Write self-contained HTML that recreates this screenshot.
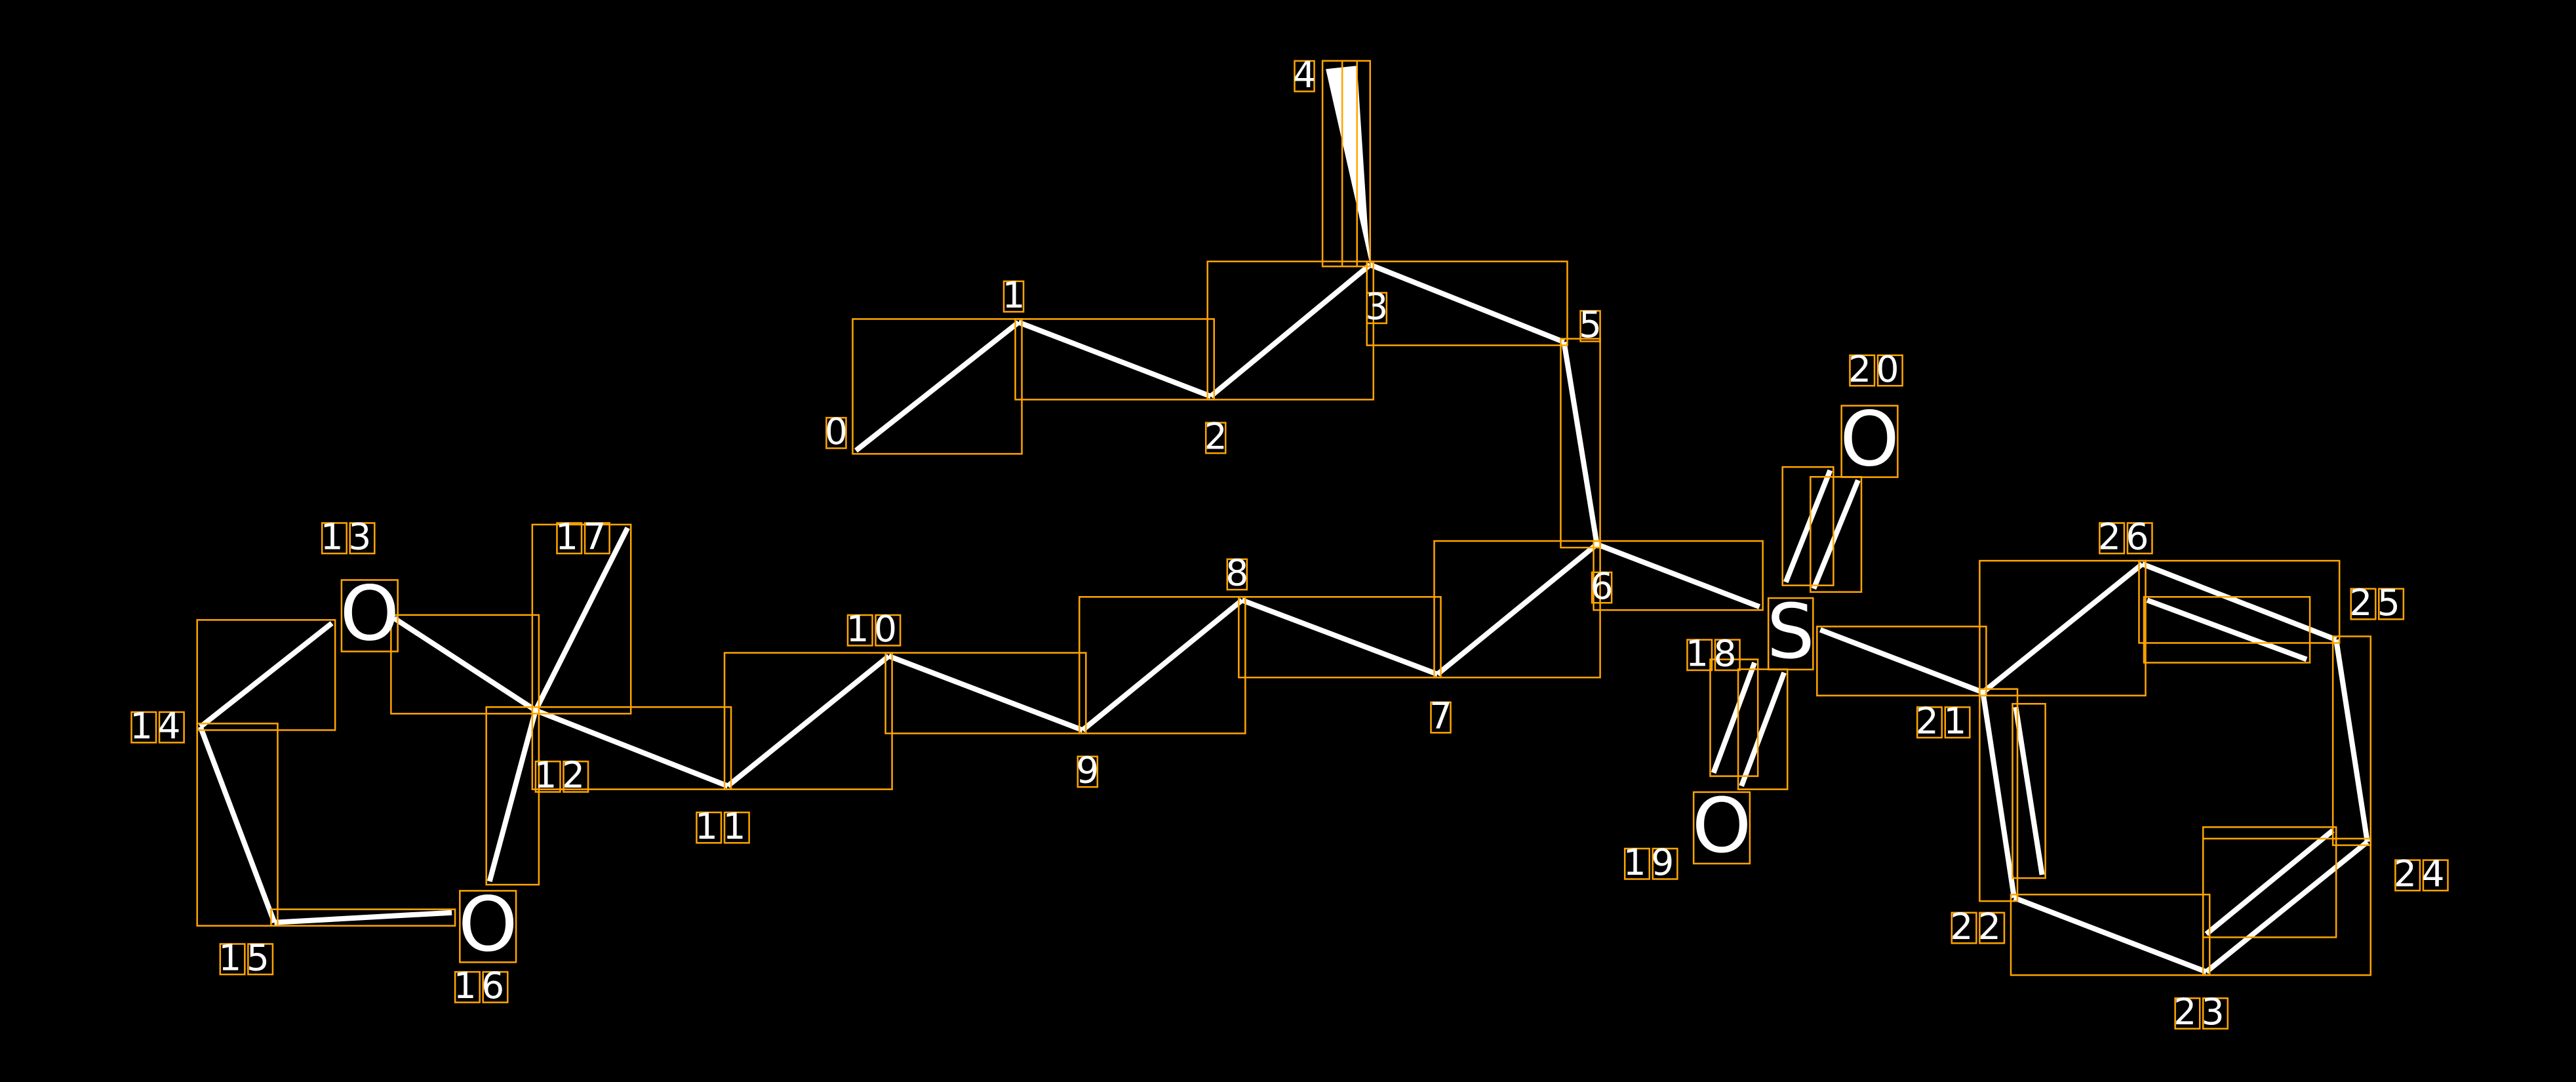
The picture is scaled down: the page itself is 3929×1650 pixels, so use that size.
<!DOCTYPE html>
<html><head><meta charset="utf-8"><style>
html,body{margin:0;padding:0;background:#000;}
svg{display:block;}
text{font-family:"DejaVu Sans","Liberation Sans",sans-serif;fill:#fff;}
</style></head><body>
<svg id="s" width="3929" height="1650" viewBox="0 0 1568 658" preserveAspectRatio="none" xmlns="http://www.w3.org/2000/svg">
<rect x="0" y="0" width="1568" height="658" fill="#000"/>
<g id="bonds" stroke="#fff" stroke-width="3.2" stroke-linecap="butt" fill="none">
<line x1="521" y1="274" x2="620" y2="196"/>
<line x1="620" y1="196" x2="737" y2="241"/>
<line x1="737" y1="241" x2="834" y2="161"/>
<line x1="834" y1="161" x2="952" y2="208"/>
<line x1="952" y1="208" x2="972" y2="331"/>
<line x1="972" y1="331" x2="875" y2="410"/>
<line x1="875" y1="410" x2="756" y2="365"/>
<line x1="756" y1="365" x2="659" y2="444"/>
<line x1="659" y1="444" x2="541" y2="399"/>
<line x1="541" y1="399" x2="443" y2="478"/>
<line x1="443" y1="478" x2="326" y2="432"/>
<line x1="326" y1="432" x2="240" y2="376"/>
<line x1="202" y1="379" x2="122" y2="442"/>
<line x1="122" y1="442" x2="167" y2="561"/>
<line x1="167" y1="561" x2="275" y2="555"/>
<line x1="326" y1="432" x2="298" y2="536"/>
<line x1="326" y1="432" x2="382" y2="321"/>
<line x1="972" y1="331" x2="1071" y2="369"/>
<line x1="1087" y1="354" x2="1114" y2="286"/>
<line x1="1104" y1="358" x2="1131" y2="292"/>
<line x1="1068" y1="403" x2="1043" y2="470"/>
<line x1="1086" y1="409" x2="1060" y2="478"/>
<line x1="1108" y1="383" x2="1207" y2="421"/>
<line x1="1207" y1="421" x2="1226" y2="546"/>
<line x1="1226" y1="546" x2="1343" y2="591"/>
<line x1="1343" y1="591" x2="1441" y2="512"/>
<line x1="1441" y1="512" x2="1422" y2="389"/>
<line x1="1422" y1="389" x2="1304" y2="343"/>
<line x1="1304" y1="343" x2="1207" y2="421"/>
<line x1="1227" y1="430" x2="1243" y2="532"/>
<line x1="1307" y1="365" x2="1404" y2="401"/>
<line x1="1343" y1="568" x2="1420" y2="505"/>
</g>
<polygon points="807,42 826,40 834,161" fill="#fff"/>
<g id="boxes" stroke="#ffa500" stroke-width="1" fill="none">
<rect x="805" y="37" width="21" height="125"/>
<rect x="817" y="37" width="17" height="125"/>
</g>
<g id="labels" font-size="22">
<text x="509" y="270" text-anchor="middle">0</text>
<text x="617" y="187" text-anchor="middle">1</text>
<text x="740" y="273" text-anchor="middle">2</text>
<text x="838" y="194" text-anchor="middle">3</text>
<text x="794" y="53" text-anchor="middle">4</text>
<text x="968" y="205" text-anchor="middle">5</text>
<text x="975" y="364" text-anchor="middle">6</text>
<text x="877" y="443" text-anchor="middle">7</text>
<text x="753" y="356" text-anchor="middle">8</text>
<text x="662" y="476" text-anchor="middle">9</text>
<text x="532" y="390" text-anchor="middle" letter-spacing="3">10</text>
<text x="440" y="510" text-anchor="middle" letter-spacing="3">11</text>
<text x="342" y="479" text-anchor="middle" letter-spacing="3">12</text>
<text x="212" y="334" text-anchor="middle" letter-spacing="3">13</text>
<text x="96" y="449" text-anchor="middle" letter-spacing="3">14</text>
<text x="150" y="590" text-anchor="middle" letter-spacing="3">15</text>
<text x="293" y="607" text-anchor="middle" letter-spacing="3">16</text>
<text x="355" y="334" text-anchor="middle" letter-spacing="3">17</text>
<text x="1043" y="405" text-anchor="middle" letter-spacing="3">18</text>
<text x="1005" y="532" text-anchor="middle" letter-spacing="3">19</text>
<text x="1142" y="232" text-anchor="middle" letter-spacing="3">20</text>
<text x="1183" y="446" text-anchor="middle" letter-spacing="3">21</text>
<text x="1204" y="571" text-anchor="middle" letter-spacing="3">22</text>
<text x="1340" y="623" text-anchor="middle" letter-spacing="3">23</text>
<text x="1474" y="539" text-anchor="middle" letter-spacing="3">24</text>
<text x="1447" y="374" text-anchor="middle" letter-spacing="3">25</text>
<text x="1294" y="334" text-anchor="middle" letter-spacing="3">26</text>
</g>
<g id="atoms" font-size="46">
<text x="225" y="389" text-anchor="middle">O</text>
<text x="297" y="578" text-anchor="middle">O</text>
<text x="1090" y="400" text-anchor="middle">S</text>
<text x="1048" y="518" text-anchor="middle">O</text>
<text x="1138" y="283" text-anchor="middle">O</text>
</g>
</svg>
<script>
(function(){
var ns="http://www.w3.org/2000/svg";
var boxes=document.getElementById('boxes');
function rect(x,y,w,h){var r=document.createElementNS(ns,'rect');r.setAttribute('x',x);r.setAttribute('y',y);r.setAttribute('width',w);r.setAttribute('height',h);boxes.appendChild(r);}
var ls=document.querySelectorAll('#bonds line');
ls.forEach(function(l){
 var x1=+l.getAttribute('x1'),y1=+l.getAttribute('y1'),x2=+l.getAttribute('x2'),y2=+l.getAttribute('y2');
 var x=Math.min(x1,x2)-2,y=Math.min(y1,y2)-2;
 rect(x,y,Math.abs(x2-x1)+4,Math.abs(y2-y1)+4);
});
var ts=document.querySelectorAll('#labels text, #atoms text');
ts.forEach(function(t){
 var n=t.getNumberOfChars();
 if(t.parentNode.id==='labels'){
  for(var i=0;i<n;i++){var e=t.getExtentOfChar(i);rect(e.x+1,e.y+4,e.width-2,e.height-7);}
 } else {var b=t.getBBox();rect(b.x+1,b.y+6,b.width-2,b.height-10);}
});
})();
</script>
</body></html>
